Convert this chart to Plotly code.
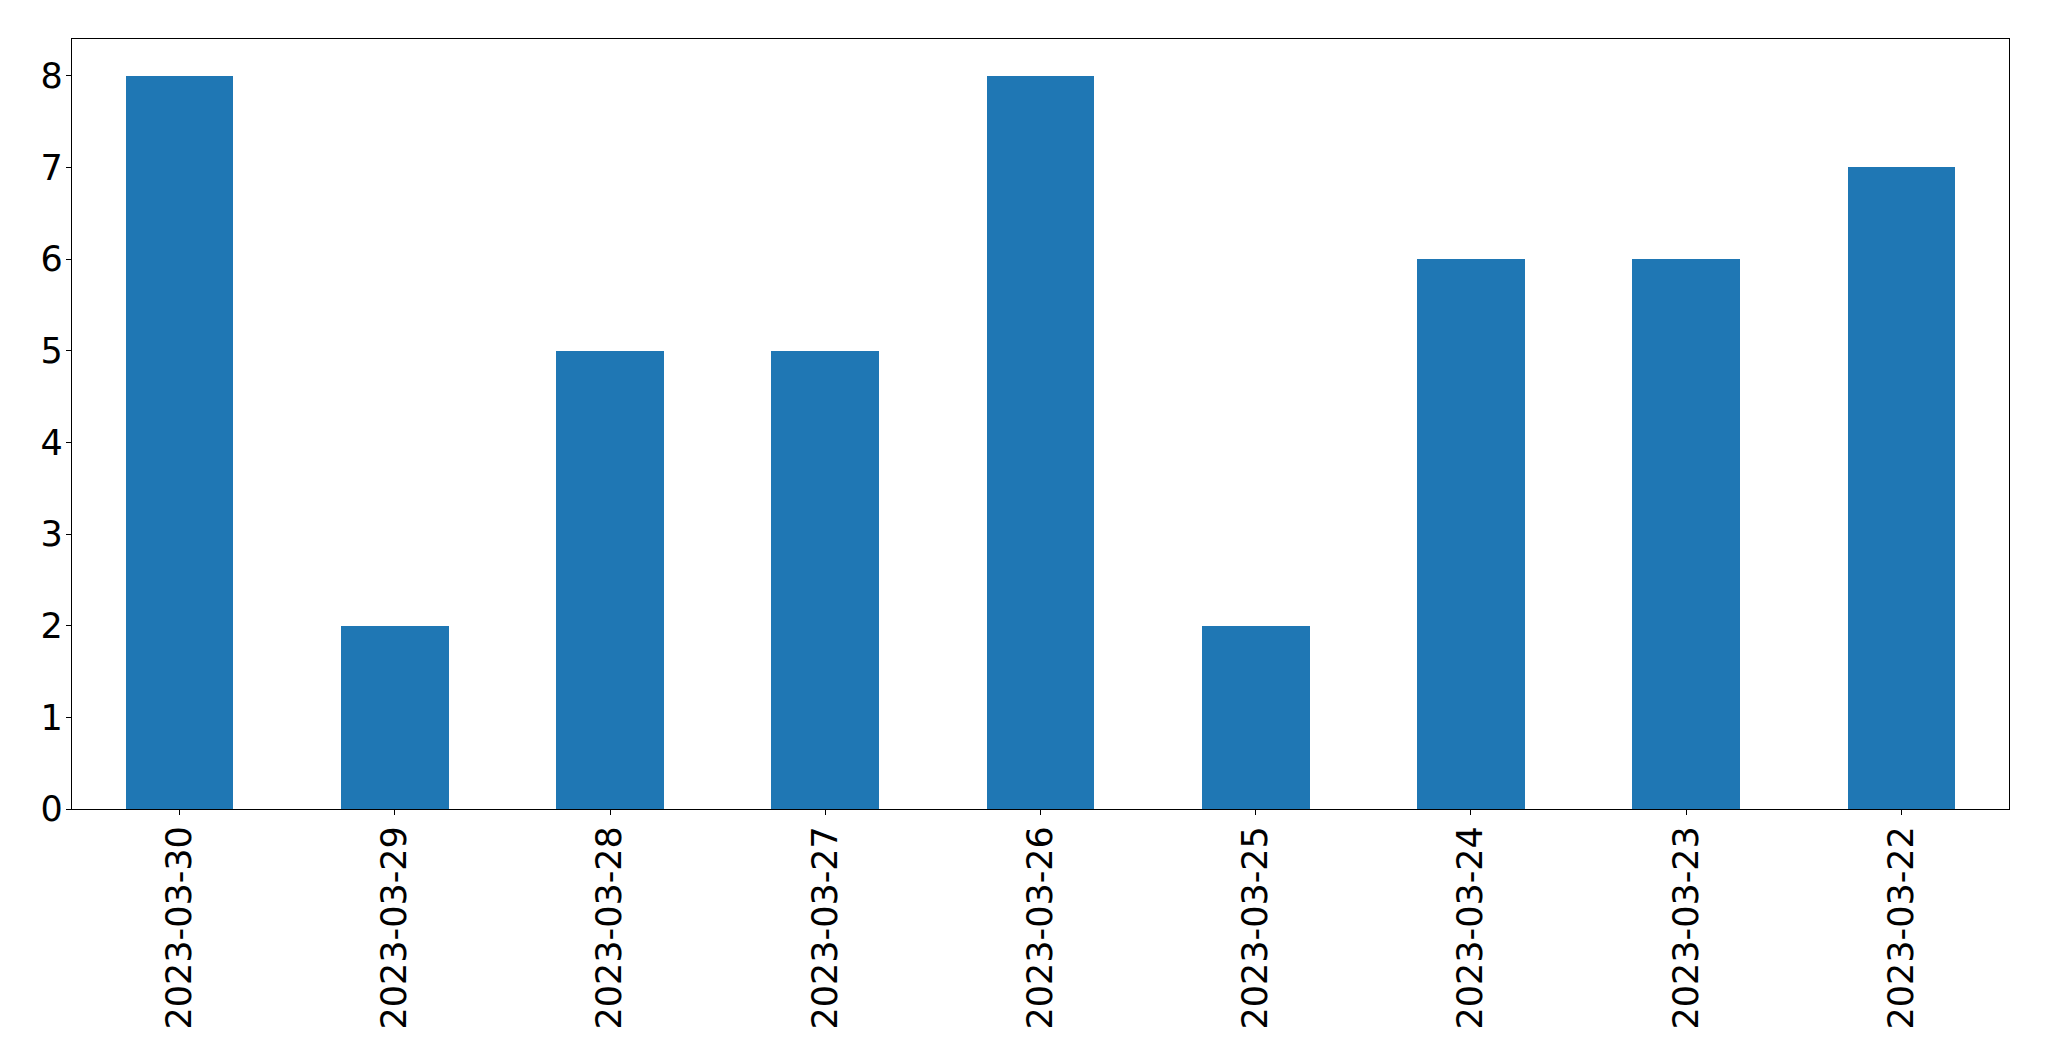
import plotly.graph_objects as go

dates = ["2023-03-30", "2023-03-29", "2023-03-28", "2023-03-27", "2023-03-26",
         "2023-03-25", "2023-03-24", "2023-03-23", "2023-03-22"]
counts = [8, 2, 5, 5, 8, 2, 6, 6, 7]
y_ticks = [0, 1, 2, 3, 4, 5, 6, 7, 8]

fig = go.Figure(go.Bar(x=dates, y=counts, marker_color="#1f77b4",
                       marker_line_width=0, width=0.5))

axis_common = dict(showline=True, linecolor="black", linewidth=1.3, mirror=True,
                   showgrid=False, zeroline=False, ticks="outside", ticklen=5,
                   tickwidth=1.3, tickcolor="black",
                   tickfont=dict(family="DejaVu Sans", size=35, color="black"))

fig.update_layout(
    width=2049, height=1061,
    margin=dict(l=72, r=40, t=39, b=252),
    plot_bgcolor="white", paper_bgcolor="white",
    showlegend=False, bargap=0,
    xaxis=dict(type="category", range=[-0.5, 8.5], tickangle=-90,
               ticklabelstandoff=-3, **axis_common),
    yaxis=dict(range=[0, 8.4], tickvals=y_ticks, ticklabelstandoff=-4, **axis_common),
)

fig.write_html("out.html")
